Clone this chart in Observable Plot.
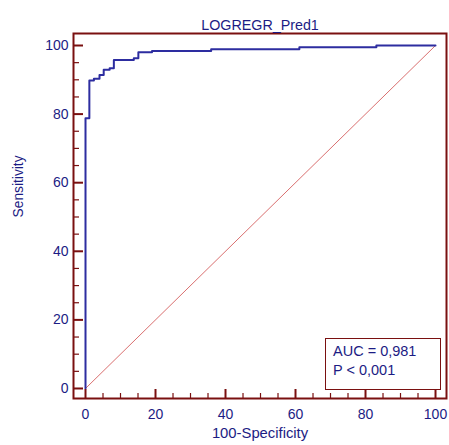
<!DOCTYPE html>
<html>
<head>
<meta charset="utf-8">
<script src="https://cdn.jsdelivr.net/npm/d3@7"></script>
<script src="https://cdn.jsdelivr.net/npm/@observablehq/plot@0.6"></script>
<style>
  html, body { margin: 0; padding: 0; background: #fff; }
  #wrap { position: relative; width: 449px; height: 445px; font-family: "Liberation Sans", Arial, sans-serif; }
  #auc { position: absolute; left: 325px; top: 338px; width: 107px; height: 47px; border: 1.5px solid #7a1010;
         color: #1c1c84; font-size: 14.5px; line-height: 19px; padding: 3px 0 0 7px; box-sizing: content-box; }
</style>
</head>
<body>
<div id="wrap"></div>
<script>
// ROC curve points (100-Specificity, Sensitivity)
const fpr  = [0, 0,    1.1,  2.4,  4.0,  5.2,  6.9,  8.1,  13.8, 15.1, 19.0, 35.9, 61.1, 83.1, 100];
const sens = [0, 78.8, 89.8, 90.3, 91.4, 92.9, 93.4, 95.8, 96.3, 98.0, 98.4, 98.9, 99.5, 100, 100];
const diag = [0, 100];
const majorTicks = [0, 20, 40, 60, 80, 100];
const minorTicks = d3.range(0, 101, 5).filter(v => v % 20 !== 0);
const title = "LOGREGR_Pred1";
const xLabel = "100-Specificity";
const yLabel = "Sensitivity";
const aucText = ["AUC = 0,981", "P < 0,001"];

const roc = fpr.map((x, i) => ({x, y: sens[i]}));
const navy = "#1c1c84";
const frameColor = "#7a1010";

// plot area (frame) is 373 x 365 px
const areaW = 373, areaH = 365;

const chart = Plot.plot({
  width: 449,
  height: 445,
  marginLeft: 73,
  marginRight: 3,
  marginTop: 33,
  marginBottom: 47,
  style: {fontFamily: "'Liberation Sans', Arial, sans-serif", fontSize: "14px", color: navy, background: "#fff"},
  x: {domain: [-3.43, 103.14], ticks: majorTicks, tickSize: 0, tickPadding: 11, label: null},
  y: {domain: [-2.92, 103.5], ticks: majorTicks, tickSize: 0, tickPadding: 5, label: null},
  marks: [
    Plot.line(diag.map(d => ({x: d, y: d})), {x: "x", y: "y", stroke: "#c83030", strokeWidth: 0.7}),
    Plot.line(roc, {x: "x", y: "y", curve: "step-after", stroke: "#2d2da0", strokeWidth: 2}),
    // inward ticks
    Plot.tickX(majorTicks, {x: d => d, stroke: frameColor, strokeWidth: 2, insetTop: areaH - 9}),
    Plot.tickX(minorTicks, {x: d => d, stroke: frameColor, strokeWidth: 1.2, insetTop: areaH - 5}),
    Plot.tickY(majorTicks, {y: d => d, stroke: frameColor, strokeWidth: 2, insetRight: areaW - 10}),
    Plot.tickY(minorTicks, {y: d => d, stroke: frameColor, strokeWidth: 1.2, insetRight: areaW - 6}),
    Plot.frame({stroke: frameColor, strokeWidth: 2}),
    Plot.text([title], {frameAnchor: "top", dy: -14, fill: navy, fontSize: 14.3}),
    Plot.text([xLabel], {frameAnchor: "bottom", dy: 39, fill: navy, fontSize: 14.8}),
    Plot.text([yLabel], {frameAnchor: "left", dx: -55, dy: 1.5, rotate: -90, fill: navy, fontSize: 13.8})
  ]
});

const wrap = document.getElementById("wrap");
wrap.appendChild(chart);
const box = document.createElement("div");
box.id = "auc";
box.innerHTML = aucText.map(t => `<div>${t}</div>`).join("");
wrap.appendChild(box);
</script>
</body>
</html>
